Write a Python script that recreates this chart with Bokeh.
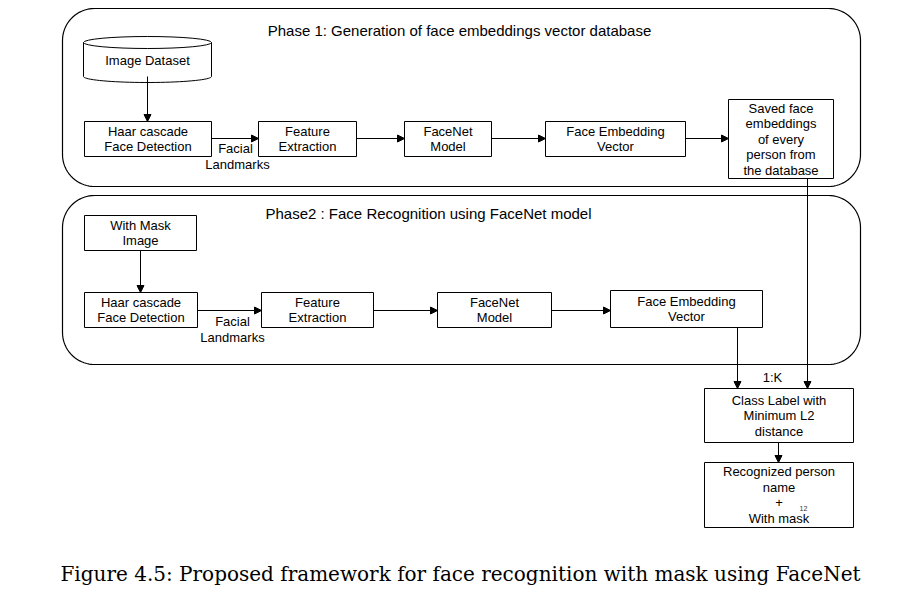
import numpy as np
from bokeh.plotting import figure
from bokeh.models import Range1d, Arrow, NormalHead
from bokeh.core.properties import value
from bokeh.embed import file_html
from bokeh.resources import INLINE

# phase panels: left, right, top, bottom, title, title x, title y
phases = [(62, 860, 8, 186, "Phase 1: Generation of face embeddings vector database", 459, 30),
          (62, 860, 195, 364, "Phase2 : Face Recognition using FaceNet model", 428, 213)]

# boxes: left, right, top, bottom, lines of text
boxes = [
    (84, 211, 121, 156, ["Haar cascade", "Face Detection"]),
    (258, 356, 121, 156, ["Feature", "Extraction"]),
    (404, 491, 121, 156, ["FaceNet", "Model"]),
    (545, 685, 121, 156, ["Face Embedding", "Vector"]),
    (728, 833, 99, 178, ["Saved face", "embeddings", "of every", "person from", "the database"]),
    (84, 196, 215, 250, ["With Mask", "Image"]),
    (84, 197, 292, 327, ["Haar cascade", "Face Detection"]),
    (261, 373, 292, 327, ["Feature", "Extraction"]),
    (437, 551, 292, 327, ["FaceNet", "Model"]),
    (610, 762, 290, 327, ["Face Embedding", "Vector"]),
    (704, 853, 388, 442, ["Class Label with", "Minimum L2", "distance"]),
    (704, 853, 462, 527, ["Recognized person", "name", "+", "With mask"]),
]

# arrows: x0, y0, x1, y1
arrows = [(147, 76, 147, 121), (211, 138, 258, 138), (356, 138, 404, 138),
          (491, 138, 545, 138), (685, 138, 728, 138),
          (140, 250, 140, 292), (197, 310, 261, 310), (373, 310, 437, 310),
          (551, 310, 610, 310), (737, 327, 737, 388), (807, 178, 807, 388),
          (778, 442, 778, 462)]

# free labels: x, y, text, size
labels = [(235, 148, "Facial", "13px"), (237, 164, "Landmarks", "13px"),
          (232, 321, "Facial", "13px"), (232, 337, "Landmarks", "13px"),
          (772, 377, "1:K", "13px"), (803, 508, "12", "7px")]

caption = "Figure 4.5: Proposed framework for face recognition with mask using FaceNet"

p = figure(width=891, height=594, output_backend="svg", toolbar_location=None,
           x_range=Range1d(0, 891), y_range=Range1d(594, 0), min_border=0)
p.axis.visible = False
p.grid.visible = False
p.outline_line_color = None

font = value("Liberation Sans")

def rounded(l, r, t, b, rad):
    xs, ys = [], []
    for cx, cy, a0 in [(r - rad, t + rad, -np.pi / 2), (r - rad, b - rad, 0),
                       (l + rad, b - rad, np.pi / 2), (l + rad, t + rad, np.pi)]:
        a = np.linspace(a0, a0 + np.pi / 2, 20)
        xs += list(cx + rad * np.cos(a))
        ys += list(cy + rad * np.sin(a))
    return xs, ys

for l, r, t, b, title, tx, ty in phases:
    xs, ys = rounded(l, r, t, b, 32)
    p.patch(xs, ys, fill_color=None, line_color="black", line_width=1.2)
    p.text([tx], [ty], text=[title], text_font=font, text_font_size="15px",
           text_align="center", text_baseline="middle")

# image dataset cylinder
cx, w, top, bot, eh = 147, 128, 42, 76, 12
p.ellipse([cx], [top], width=w, height=eh, fill_color="white", line_color="black")
a = np.linspace(0, np.pi, 40)
p.line(cx + w / 2 * np.cos(a), bot + eh / 2 * np.sin(a), line_color="black")
p.segment([cx - w / 2, cx + w / 2], [top, top], [cx - w / 2, cx + w / 2], [bot, bot], line_color="black")
p.text([cx], [60], text=["Image Dataset"], text_font=font, text_font_size="13px",
       text_align="center", text_baseline="middle")

for l, r, t, b, lines in boxes:
    p.quad(left=l, right=r, top=t, bottom=b, fill_color="white", line_color="black")
    n = len(lines)
    ys = [(t + b) / 2 + (i - (n - 1) / 2) * 15.5 for i in range(n)]
    p.text([(l + r) / 2] * n, ys, text=lines, text_font=font, text_font_size="13px",
           text_align="center", text_baseline="middle")

for x0, y0, x1, y1 in arrows:
    p.add_layout(Arrow(x_start=x0, y_start=y0, x_end=x1, y_end=y1, line_width=1,
                       end=NormalHead(size=7, fill_color="black", line_color="black")))

for x, y, t, s in labels:
    p.text([x], [y], text=[t], text_font=font, text_font_size=s,
           text_align="center", text_baseline="middle", text_color="#333333" if s == "7px" else "black")

p.text([460], [573], text=[caption], text_font=value("DejaVu Serif"), text_font_size="20px",
       text_align="center", text_baseline="middle")

open("out.html", "w").write(file_html(p, INLINE))
